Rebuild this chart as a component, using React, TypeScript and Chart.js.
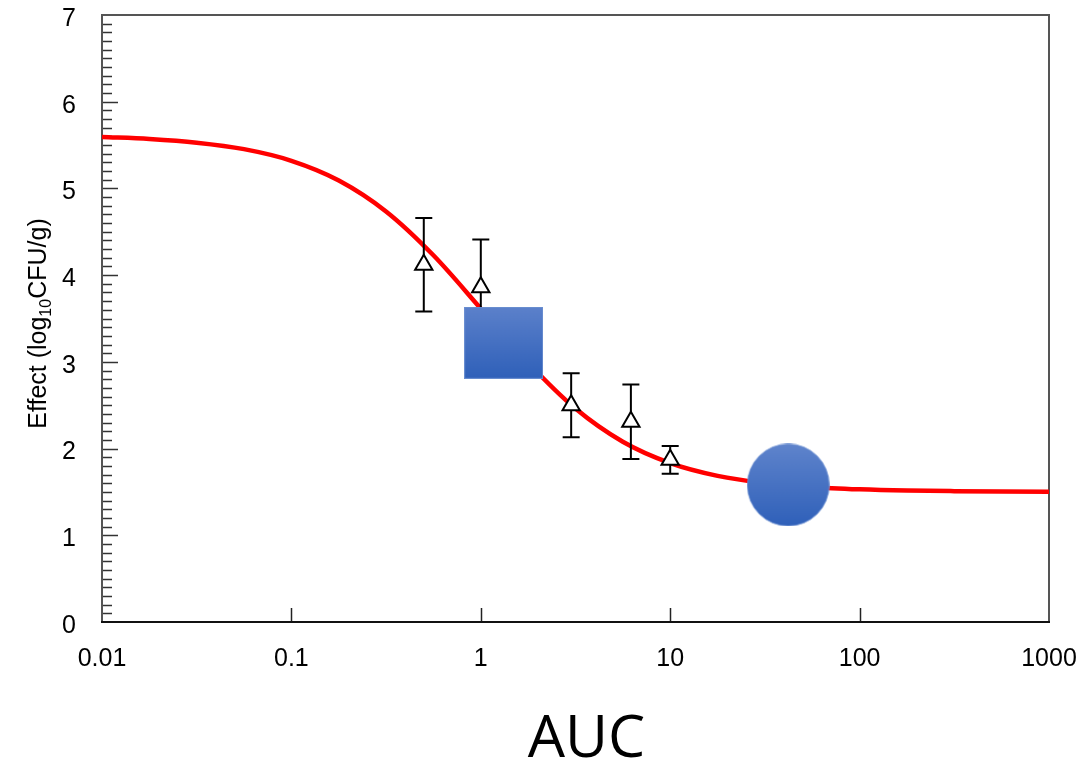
import React, { useEffect, useRef } from "react";
import { Chart, registerables } from "chart.js";

Chart.register(...registerables);

// ---- data ----
const curveAUC = [0.01, 0.0178, 0.0316, 0.0562, 0.1, 0.178, 0.316, 0.562, 1, 1.78, 3.16, 5.62, 10, 17.8, 31.6, 56.2, 100, 178, 316, 562, 1000];
const curveEffect = [5.593, 5.57, 5.528, 5.453, 5.319, 5.092, 4.735, 4.229, 3.614, 2.989, 2.461, 2.078, 1.832, 1.685, 1.602, 1.555, 1.53, 1.516, 1.509, 1.505, 1.503];

const obsAUC = [0.5, 1, 3, 6.2, 10];
const obsEffect = [4.12, 3.86, 2.5, 2.31, 1.87];
const obsErr = [0.54, 0.55, 0.37, 0.43, 0.16];

const squareAUC = [1.32];
const squareEffect = [3.22];
const circleAUC = [42];
const circleEffect = [1.58];

const xTickValues = [0.01, 0.1, 1, 10, 100, 1000];
const xTickLabels = ["0.01", "0.1", "1", "10", "100", "1000"];
const yTickValues = [0, 1, 2, 3, 4, 5, 6, 7];

const yTitleMain = "Effect (log";
const yTitleSub = "10";
const yTitleEnd = "CFU/g)";
const xTitle = "AUC";

const FONT = '"Liberation Sans", Arial, sans-serif';

function makeRect(w: number, h: number) {
  const c = document.createElement("canvas");
  c.width = w;
  c.height = h;
  const g = c.getContext("2d")!;
  const grad = g.createLinearGradient(0, 0, 0, h);
  grad.addColorStop(0, "#5c81cb");
  grad.addColorStop(1, "#2f60b9");
  g.fillStyle = grad;
  g.fillRect(0, 0, w, h);
  g.strokeStyle = "rgba(110,145,210,0.9)";
  g.lineWidth = 1;
  g.strokeRect(0.5, 0.5, w - 1, h - 1);
  return c;
}

function makeCircle(d: number) {
  const c = document.createElement("canvas");
  c.width = d;
  c.height = d;
  const g = c.getContext("2d")!;
  const grad = g.createLinearGradient(0, 0, 0, d);
  grad.addColorStop(0, "#5f84cc");
  grad.addColorStop(1, "#2f60b9");
  g.fillStyle = grad;
  g.beginPath();
  g.arc(d / 2, d / 2, d / 2 - 0.5, 0, Math.PI * 2);
  g.fill();
  g.strokeStyle = "rgba(110,145,210,0.8)";
  g.lineWidth = 1;
  g.stroke();
  return c;
}

export default function App() {
  const ref = useRef<HTMLCanvasElement>(null);

  useEffect(() => {
    const canvas = ref.current!;
    const TRI_INDEX = 1;

    const framePlugin = {
      id: "frameTicks",
      beforeDatasetsDraw(chart: any) {
        const { ctx, chartArea } = chart;
        const { left, right, top, bottom } = chartArea;
        const ys = chart.scales.y;
        const xs = chart.scales.x;
        ctx.save();
        ctx.lineWidth = 1.5;
        ctx.strokeStyle = "#333";
        for (let i = 1; i < 70; i++) {
          const y = Math.round(ys.getPixelForValue(i / 10)) + 0.5;
          const len = i % 10 === 0 ? 16 : 10;
          ctx.beginPath();
          ctx.moveTo(left, y);
          ctx.lineTo(left + len, y);
          ctx.stroke();
        }
        ctx.lineWidth = 1.5;
        ctx.strokeStyle = "#222";
        xTickValues.slice(1, -1).forEach((v) => {
          const x = Math.round(xs.getPixelForValue(v)) + 0.5;
          ctx.beginPath();
          ctx.moveTo(x, bottom);
          ctx.lineTo(x, bottom - 14);
          ctx.stroke();
        });
        ctx.lineWidth = 2;
        ctx.strokeStyle = "#555";
        ctx.beginPath();
        ctx.moveTo(left, bottom);
        ctx.lineTo(left, top);
        ctx.lineTo(right, top);
        ctx.lineTo(right, bottom);
        ctx.stroke();
        ctx.strokeStyle = "#111";
        ctx.beginPath();
        ctx.moveTo(left - 1, bottom);
        ctx.lineTo(right + 1, bottom);
        ctx.stroke();
        ctx.restore();
      },
      beforeDatasetDraw(chart: any, args: any) {
        if (args.index !== TRI_INDEX) return;
        const { ctx } = chart;
        const xs = chart.scales.x;
        const ys = chart.scales.y;
        ctx.save();
        ctx.strokeStyle = "#000";
        ctx.lineWidth = 2;
        obsAUC.forEach((a, i) => {
          const x = xs.getPixelForValue(a);
          const yT = ys.getPixelForValue(obsEffect[i] + obsErr[i]);
          const yB = ys.getPixelForValue(obsEffect[i] - obsErr[i]);
          ctx.beginPath();
          ctx.moveTo(x, yT);
          ctx.lineTo(x, yB);
          ctx.moveTo(x - 8.5, yT);
          ctx.lineTo(x + 8.5, yT);
          ctx.moveTo(x - 8.5, yB);
          ctx.lineTo(x + 8.5, yB);
          ctx.stroke();
        });
        ctx.restore();
      },
      afterDraw(chart: any) {
        const { ctx, chartArea } = chart;
        ctx.save();
        // y title with subscript
        const F = 25;
        const S = 16;
        ctx.fillStyle = "#000";
        ctx.textBaseline = "alphabetic";
        ctx.font = `${F}px ${FONT}`;
        const w1 = ctx.measureText(yTitleMain).width;
        const w3 = ctx.measureText(yTitleEnd).width;
        ctx.font = `${S}px ${FONT}`;
        const w2 = ctx.measureText(yTitleSub).width;
        const total = w1 + w2 + w3;
        const cy = (chartArea.top + chartArea.bottom) / 2 + 5;
        ctx.translate(46, cy);
        ctx.rotate(-Math.PI / 2);
        let x0 = -total / 2;
        ctx.font = `${F}px ${FONT}`;
        ctx.textAlign = "left";
        ctx.fillText(yTitleMain, x0, 0);
        x0 += w1;
        ctx.font = `${S}px ${FONT}`;
        ctx.fillText(yTitleSub, x0, 5);
        x0 += w2;
        ctx.font = `${F}px ${FONT}`;
        ctx.fillText(yTitleEnd, x0, 0);
        ctx.restore();

        ctx.save();
        ctx.fillStyle = "#000";
        ctx.font = `59px "Open Sans", "Noto Sans", sans-serif`;
        ctx.textAlign = "center";
        ctx.textBaseline = "alphabetic";
        ctx.fillText(xTitle, (chartArea.left + chartArea.right) / 2 + 11, 757);
        ctx.restore();
      },
    };

    const chart = new Chart(canvas, {
      type: "scatter",
      data: {
        datasets: [
          {
            label: "fit",
            data: curveAUC.map((x, i) => ({ x, y: curveEffect[i] })),
            showLine: true,
            borderColor: "#ff0000",
            borderWidth: 4.5,
            pointRadius: 0,
            cubicInterpolationMode: "monotone",
            order: 4,
          } as any,
          {
            label: "observed",
            data: obsAUC.map((x, i) => ({ x, y: obsEffect[i] })),
            pointStyle: "triangle",
            pointRadius: 10,
            backgroundColor: "#ffffff",
            borderColor: "#000000",
            borderWidth: 2,
            order: 3,
          },
          {
            label: "square",
            data: squareAUC.map((x, i) => ({ x, y: squareEffect[i] })),
            pointStyle: makeRect(79, 72),
            pointRadius: 40,
            order: 2,
          },
          {
            label: "circle",
            data: circleAUC.map((x, i) => ({ x, y: circleEffect[i] })),
            pointStyle: makeCircle(83),
            pointRadius: 41,
            order: 1,
          },
        ],
      },
      options: {
        animation: false,
        responsive: false,
        devicePixelRatio: 1,
        layout: { autoPadding: false, padding: { top: 15, right: 32, left: 0, bottom: 0 } },
        plugins: {
          legend: { display: false },
          tooltip: { enabled: false },
        },
        scales: {
          x: {
            type: "logarithmic",
            min: 0.01,
            max: 1000,
            grid: { display: false, drawTicks: false },
            border: { display: false },
            afterBuildTicks(scale: any) {
              scale.ticks = xTickValues.map((v) => ({ value: v }));
            },
            ticks: {
              autoSkip: false,
              maxRotation: 0,
              padding: 22,
              color: "#000",
              font: { family: FONT, size: 25 },
              callback(value: any) {
                const i = xTickValues.findIndex((v) => Math.abs(v - value) / v < 1e-6);
                return i >= 0 ? xTickLabels[i] : "";
              },
            },
            afterFit(scale: any) {
              scale.height = 143;
              scale.paddingLeft = 0;
              scale.paddingRight = 0;
            },
          },
          y: {
            type: "linear",
            min: 0,
            max: 7,
            grid: { display: false, drawTicks: false },
            border: { display: false },
            afterBuildTicks(scale: any) {
              scale.ticks = yTickValues.map((v) => ({ value: v }));
            },
            ticks: {
              padding: 26,
              labelOffset: 4,
              color: "#000",
              font: { family: FONT, size: 25 },
            },
            afterFit(scale: any) {
              scale.width = 102;
              scale.paddingTop = 0;
              scale.paddingBottom = 0;
            },
          },
        },
      },
      plugins: [framePlugin],
    });

    return () => chart.destroy();
  }, []);

  return (
    <div style={{ position: "absolute", left: 0, top: 0, width: 1081, height: 765, background: "#fff" }}>
      <canvas ref={ref} width={1081} height={765} style={{ display: "block" }} />
    </div>
  );
}
